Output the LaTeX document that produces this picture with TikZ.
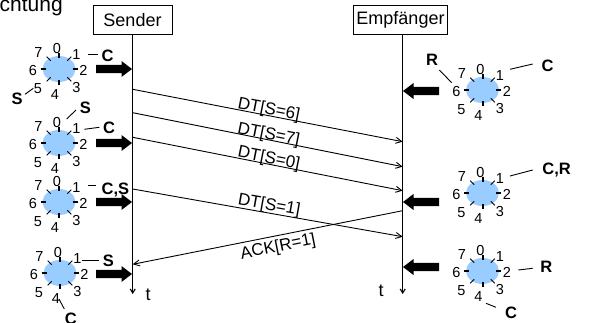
\documentclass[tikz,border=0pt]{standalone}
\usepackage{fontspec}
\setmainfont{Liberation Sans}
\usetikzlibrary{arrows.meta,shapes.geometric}
\definecolor{wheelblue}{RGB}{153,204,255}
\tikzset{
  lanebox/.style={draw, line width=1pt, minimum width=79pt, minimum height=29pt, inner sep=0pt, font=\fontsize{18}{21}\selectfont},
  wheelbody/.style={ellipse, fill=wheelblue, minimum width=33pt, minimum height=26pt, inner sep=0pt},
  majortick/.style={line width=2pt},
  minortick/.style={line width=0.9pt},
  digit/.style={inner sep=0pt, text height=10.4pt, text depth=0pt, font=\fontsize{14.5}{16}\selectfont},
  tag/.style={inner sep=0pt, text height=11.8pt, text depth=0pt, font=\fontsize{16.5}{19}\selectfont\bfseries},
  leader/.style={line width=0.9pt},
  msg/.style={line width=0.9pt, -{Straight Barb[length=6pt,width=6pt]}},
  msglabel/.style={sloped, inner sep=0pt, text height=12.2pt, text depth=0pt, font=\fontsize{17}{20}\selectfont},
  timeline/.style={line width=1.1pt, -{Straight Barb[length=4pt,width=5pt]}},
  plain/.style={inner sep=0pt, font=\fontsize{18}{21}\selectfont},
  bigarrow/.style={fill=black}
}
\newcommand{\drawwheel}[3]{%
  \begin{scope}[shift={(#2,#3)}]
    \node[wheelbody] (#1) at (0,0) {};
    \draw[majortick] (0,-16) -- (0,-11) (0,11) -- (0,16) (-18.5,0) -- (-13.5,0) (13.5,0) -- (18.5,0);
    \draw[minortick] (-12.3,-12.3) -- (-8.3,-8.3) (12.3,-12.3) -- (8.3,-8.3) (-12.3,12.3) -- (-8.3,8.3) (12.3,12.3) -- (8.3,8.3);
    \node[digit] (#1-0) at (-2,-20.5) {0};
    \node[digit] (#1-1) at (17.5,-15) {1};
    \node[digit] (#1-2) at (24.5,1.5) {2};
    \node[digit] (#1-3) at (17.5,18) {3};
    \node[digit] (#1-4) at (-4,25) {4};
    \node[digit] (#1-5) at (-21,19) {5};
    \node[digit] (#1-6) at (-26,1.5) {6};
    \node[digit] (#1-7) at (-20.5,-16.5) {7};
  \end{scope}}
\newcommand{\arrowright}[2]{%
  \fill[bigarrow] (#1-36,#2-4.2) -- (#1-10.5,#2-4.2) -- (#1-10.5,#2-8) -- (#1,#2) -- (#1-10.5,#2+8) -- (#1-10.5,#2+4.2) -- (#1-36,#2+4.2) -- cycle;}
\newcommand{\arrowleft}[2]{%
  \fill[bigarrow] (#1+36,#2-4.2) -- (#1+10.5,#2-4.2) -- (#1+10.5,#2-8) -- (#1,#2) -- (#1+10.5,#2+8) -- (#1+10.5,#2+4.2) -- (#1+36,#2+4.2) -- cycle;}
\begin{document}
\begin{tikzpicture}[x=1pt,y=-1pt]
\useasboundingbox (0,0) rectangle (605,323);
% title fragment
\node[inner sep=0pt, anchor=base west, font=\fontsize{21}{24}\selectfont] (title) at (-0.5,12) {chtung};
% lanes
\node[lanebox] (sbox) at (132.5,20) {Sender};
\node[lanebox, minimum width=94pt] (rbox) at (400.5,20) {Empfänger};
\coordinate (send) at (132.7,294);
\coordinate (rend) at (402.7,294);
\draw[timeline] (sbox.south -| send) -- (send);
\draw[timeline] (rbox.south -| rend) -- (rend);
\node[plain] (st) at (148,295) {t};
\node[plain] (rt) at (381,291) {t};
% messages
\coordinate (a6) at (132.7,89.3);  \coordinate (b6) at (402.7,141.7);
\coordinate (a7) at (132.7,112.7); \coordinate (b7) at (402.7,166.7);
\coordinate (a0) at (132.7,137.3); \coordinate (b0) at (402.7,190.7);
\coordinate (a1) at (132.7,189);   \coordinate (b1) at (402.7,236.7);
\coordinate (ra) at (402.7,210.7); \coordinate (sa) at (132.7,264.3);
\draw[msg] (a6) -- node[msglabel, above=0.5pt] (l6) {DT[S=6]} (b6);
\draw[msg] (a7) -- node[msglabel, above=0pt] (l7) {DT[S=7]} (b7);
\draw[msg] (a0) -- node[msglabel, above=0.5pt] (l0) {DT[S=0]} (b0);
\draw[msg] (a1) -- node[msglabel, above=2.7pt] (l1) {DT[S=1]} (b1);
\draw[msg] (ra) -- node[msglabel, below=3.4pt, pos=0.47] (lack) {ACK[R=1]} (sa);
% sender wheels
\drawwheel{s1}{59}{69}
\drawwheel{s2}{59}{143}
\drawwheel{s3}{59}{202}
\drawwheel{s4}{60}{273}
% receiver wheels
\drawwheel{r1}{482.5}{90}
\drawwheel{r2}{482.5}{193}
\drawwheel{r3}{482.5}{271}
% thick arrows
\arrowright{132}{69}
\arrowright{132}{143}
\arrowright{132}{202}
\arrowright{132}{274}
\arrowleft{403}{91}
\arrowleft{403}{202}
\arrowleft{403}{267}
% pointer tags
\node[tag] (s1C) at (107.5,55.8) {C};
\draw[leader] (88,54.3) -- (98,54.3);
\node[tag] (s1S) at (17.2,98.3) {S};
\draw[leader] (25,94.3) -- (33.3,88.3);
\node[tag] (s2S) at (85.3,107.5) {S};
\draw[leader] (66.7,119) -- (76,110);
\node[tag] (s2C) at (109.2,127.5) {C};
\draw[leader] (84.3,129.3) -- (99.3,127.3);
\node[tag] (s3CS) at (115.5,188.3) {C,S};
\draw[leader] (88.3,185) -- (96,185);
\node[tag] (s4S) at (108.3,260.8) {S};
\draw[leader] (81.7,260) -- (99,260);
\node[tag] (s4C) at (70.8,318.7) {C};
\draw[leader] (59,299) -- (64.3,309);
\node[tag] (r1R) at (432,59.2) {R};
\draw[leader] (439.3,70) -- (451.7,82.7);
\node[tag] (r1C) at (547.5,65.8) {C};
\draw[leader] (510,69.3) -- (532.7,64);
\node[tag] (r2CR) at (556.7,168.7) {C,R};
\draw[leader] (510,176) -- (532.7,170);
\node[tag] (r3R) at (546.3,266.7) {R};
\draw[leader] (518.3,270) -- (532.7,268.3);
\node[tag] (r3C) at (511,313) {C};
\draw[leader] (486,303.3) -- (496,307.3);
\end{tikzpicture}
\end{document}
